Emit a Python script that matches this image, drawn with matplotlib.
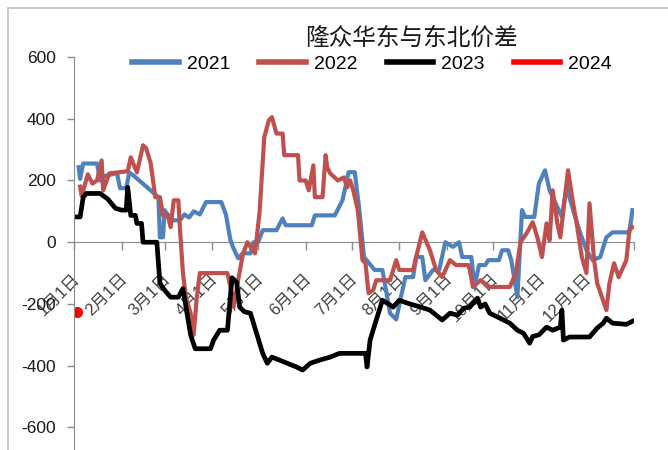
import matplotlib
matplotlib.use("Agg")
import matplotlib.pyplot as plt
from matplotlib.lines import Line2D
from matplotlib.patches import Rectangle
import matplotlib.transforms as mtransforms

plt.rcParams['font.family'] = ['Liberation Sans', 'Noto Sans CJK SC', 'DejaVu Sans']

title = "隆众华东与东北价差"
series_names = ["2021", "2022", "2023", "2024"]
month_labels = ["1月1日", "2月1日", "3月1日", "4月1日", "5月1日", "6月1日",
                "7月1日", "8月1日", "9月1日", "10月1日", "11月1日", "12月1日"]
month_start_day = [0, 31, 59, 90, 120, 151, 181, 212, 243, 273, 304, 334]
y_ticks = [600, 400, 200, 0, -200, -400, -600]

# day of year, value
day_2021 = [3, 4, 6, 15, 17, 20, 25, 28, 30, 34, 36, 39, 46, 55, 56, 58, 59, 61, 64, 69, 72, 75, 78, 82,
            86, 96, 99, 102, 104, 107, 110, 115, 117, 120, 123, 132, 136, 138, 155, 157, 170, 175, 179,
            183, 186, 189, 196, 201, 203, 206, 210, 213, 216, 221, 223, 227, 229, 234, 238, 242, 247,
            251, 253, 259, 261, 264, 268, 270, 277, 279, 283, 285, 289, 292, 294, 300, 303, 307, 310,
            313, 318, 321, 326, 330, 334, 338, 343, 347, 351, 360, 362, 364]
val_2021 = [243, 205, 255, 255, 200, 215, 220, 225, 175, 175, 226, 215, 185, 146, 16, 16, 104, 90, 71, 71,
            90, 80, 100, 90, 130, 130, 90, 6, -20, -52, -36, -36, 0, 0, 39, 39, 77, 55, 55, 87, 87, 136,
            227, 227, 104, -48, -90, -90, -145, -230, -250, -180, -113, -113, -48, -48, -123, -90, -90,
            0, -15, 0, -48, -48, -145, -74, -74, -58, -58, -26, -26, -58, -178, 104, 82, 82, 190, 233,
            168, 136, 82, 178, 93, 29, -26, -58, -48, 16, 32, 32, 35, 104]

day_2022 = [4, 5, 9, 12, 15, 18, 19, 23, 35, 37, 41, 45, 47, 50, 53, 56, 58, 61, 63, 65, 68, 69, 71, 73,
            76, 78, 80, 82, 100, 102, 104, 107, 110, 113, 115, 118, 121, 124, 127, 129, 132, 136, 137,
            146, 147, 151, 153, 156, 157, 162, 164, 165, 167, 172, 176, 178, 180, 182, 185, 188, 190,
            192, 195, 197, 206, 210, 212, 217, 221, 223, 227, 232, 236, 240, 245, 249, 257, 258, 260,
            265, 271, 284, 288, 291, 295, 299, 302, 305, 308, 310, 312, 315, 317, 319, 322, 325, 328,
            331, 334, 336, 339, 341, 347, 349, 352, 355, 360, 362, 364]
val_2022 = [180, 150, 220, 190, 200, 265, 168, 223, 230, 275, 226, 314, 305, 255, 146, 146, 87, 87, 49,
            136, 136, 49, -100, -180, -230, -300, -180, -100, -100, -145, -210, -123, -40, 0, -15, -36,
            100, 340, 395, 405, 352, 352, 282, 282, 200, 200, 168, 249, 146, 146, 282, 243, 223, 200,
            210, 178, 200, 168, 104, -58, -68, -165, -155, -123, -123, -58, -90, -90, -90, -48, 32,
            -26, -90, -113, -58, -74, -74, -90, -145, -123, -145, -145, -100, 0, 29, 65, 16, -48, 61,
            6, 168, 61, 16, 104, 233, 136, 49, -48, -100, 126, -58, -133, -220, -133, -68, -113, -58,
            39, 49]

day_2023 = [1, 4, 6, 8, 17, 22, 27, 31, 34, 35, 37, 40, 41, 44, 45, 54, 56, 59, 63, 68, 71, 76, 79, 89,
            91, 95, 100, 101, 103, 106, 108, 111, 115, 119, 123, 126, 129, 134, 139, 145, 149, 154,
            160, 167, 173, 190, 191, 193, 197, 201, 205, 208, 212, 219, 226, 232, 236, 240, 245, 250,
            254, 258, 263, 265, 268, 271, 276, 280, 284, 289, 293, 297, 299, 303, 308, 312, 317, 318,
            319, 323, 336, 341, 345, 347, 351, 360, 364]
val_2023 = [82, 82, 146, 158, 158, 140, 110, 104, 104, 178, 87, 87, 61, 61, 0, 0, -133, -155, -178, -178,
            -150, -300, -345, -345, -317, -285, -285, -230, -115, -130, -210, -225, -230, -295, -360,
            -392, -372, -382, -392, -404, -414, -392, -382, -372, -360, -360, -404, -317, -252, -188,
            -200, -210, -188, -200, -210, -220, -236, -252, -230, -236, -214, -210, -181, -210, -200,
            -230, -242, -252, -262, -285, -295, -327, -305, -300, -275, -285, -275, -220, -317, -307,
            -307, -278, -262, -246, -262, -266, -256]

day_2024 = [2]
val_2024 = [-227]

colors = ["#4F81BD", "#C0504D", "#000000", "#FF0000"]

W, H = 668, 450
fig = plt.figure(figsize=(W / 100, H / 100), dpi=100)
ax = fig.add_axes([74 / W, 0.0, (634 - 74) / W, (450 - 57) / H])

lw = 3.0
ax.plot(day_2021, val_2021, color=colors[0], lw=lw, solid_joinstyle='round')
ax.plot(day_2022, val_2022, color=colors[1], lw=lw, solid_joinstyle='round')
ax.plot(day_2023, val_2023, color=colors[2], lw=lw + 0.4, solid_joinstyle='round')
ax.plot(day_2024, val_2024, color=colors[3], lw=lw, marker='o', markersize=7, ls='none')

ax.set_xlim(0, 365)
ax.set_ylim(-673, 600)

for s in ['top', 'right']:
    ax.spines[s].set_visible(False)
ax.spines['left'].set_color('#8c8c8c')
ax.spines['bottom'].set_position(('data', 0))
ax.spines['bottom'].set_color('#8c8c8c')
ax.spines['bottom'].set_zorder(0.5)

ax.set_yticks(y_ticks)
ax.set_yticklabels([str(v) for v in y_ticks])
ax.tick_params(axis='y', direction='out', length=5, width=1, color='#8c8c8c',
               labelsize=12.5, pad=8, labelcolor='#1a1a1a')

ax.set_xticks(month_start_day + [365])
ax.set_xticklabels([])
ax.tick_params(axis='x', direction='out', length=6, width=1, color='#8c8c8c')

# rotated date labels
offset = mtransforms.offset_copy(ax.transData, fig=fig, x=3, y=-34, units='dots')
for d, lab in zip(month_start_day, month_labels):
    ax.text(d, 0, lab, transform=offset, rotation=45, rotation_mode='anchor',
            ha='right', va='center', fontsize=12, color='#404040',
            family=['Liberation Sans', 'Noto Sans CJK SC'], zorder=1)

fig.text(411 / W, 1 - 38 / H, title, ha='center', va='center', fontsize=17,
         family=['Noto Sans CJK SC'], color='#1a1a1a')

handles = [Line2D([], [], color=c, lw=4) for c in colors]
fig.legend(handles, series_names, loc='center', bbox_to_anchor=(372 / W, 1 - 64 / H),
           ncol=4, frameon=False, fontsize=14, handlelength=2.4, handletextpad=0.4,
           columnspacing=1.5)

fig.patches.append(Rectangle((8 / W, -0.1), 1.2, (1 - 8 / H) + 0.1, transform=fig.transFigure,
                             fill=False, edgecolor='#c0c0c0', lw=1.2))

fig.savefig("out.png", dpi=100)
